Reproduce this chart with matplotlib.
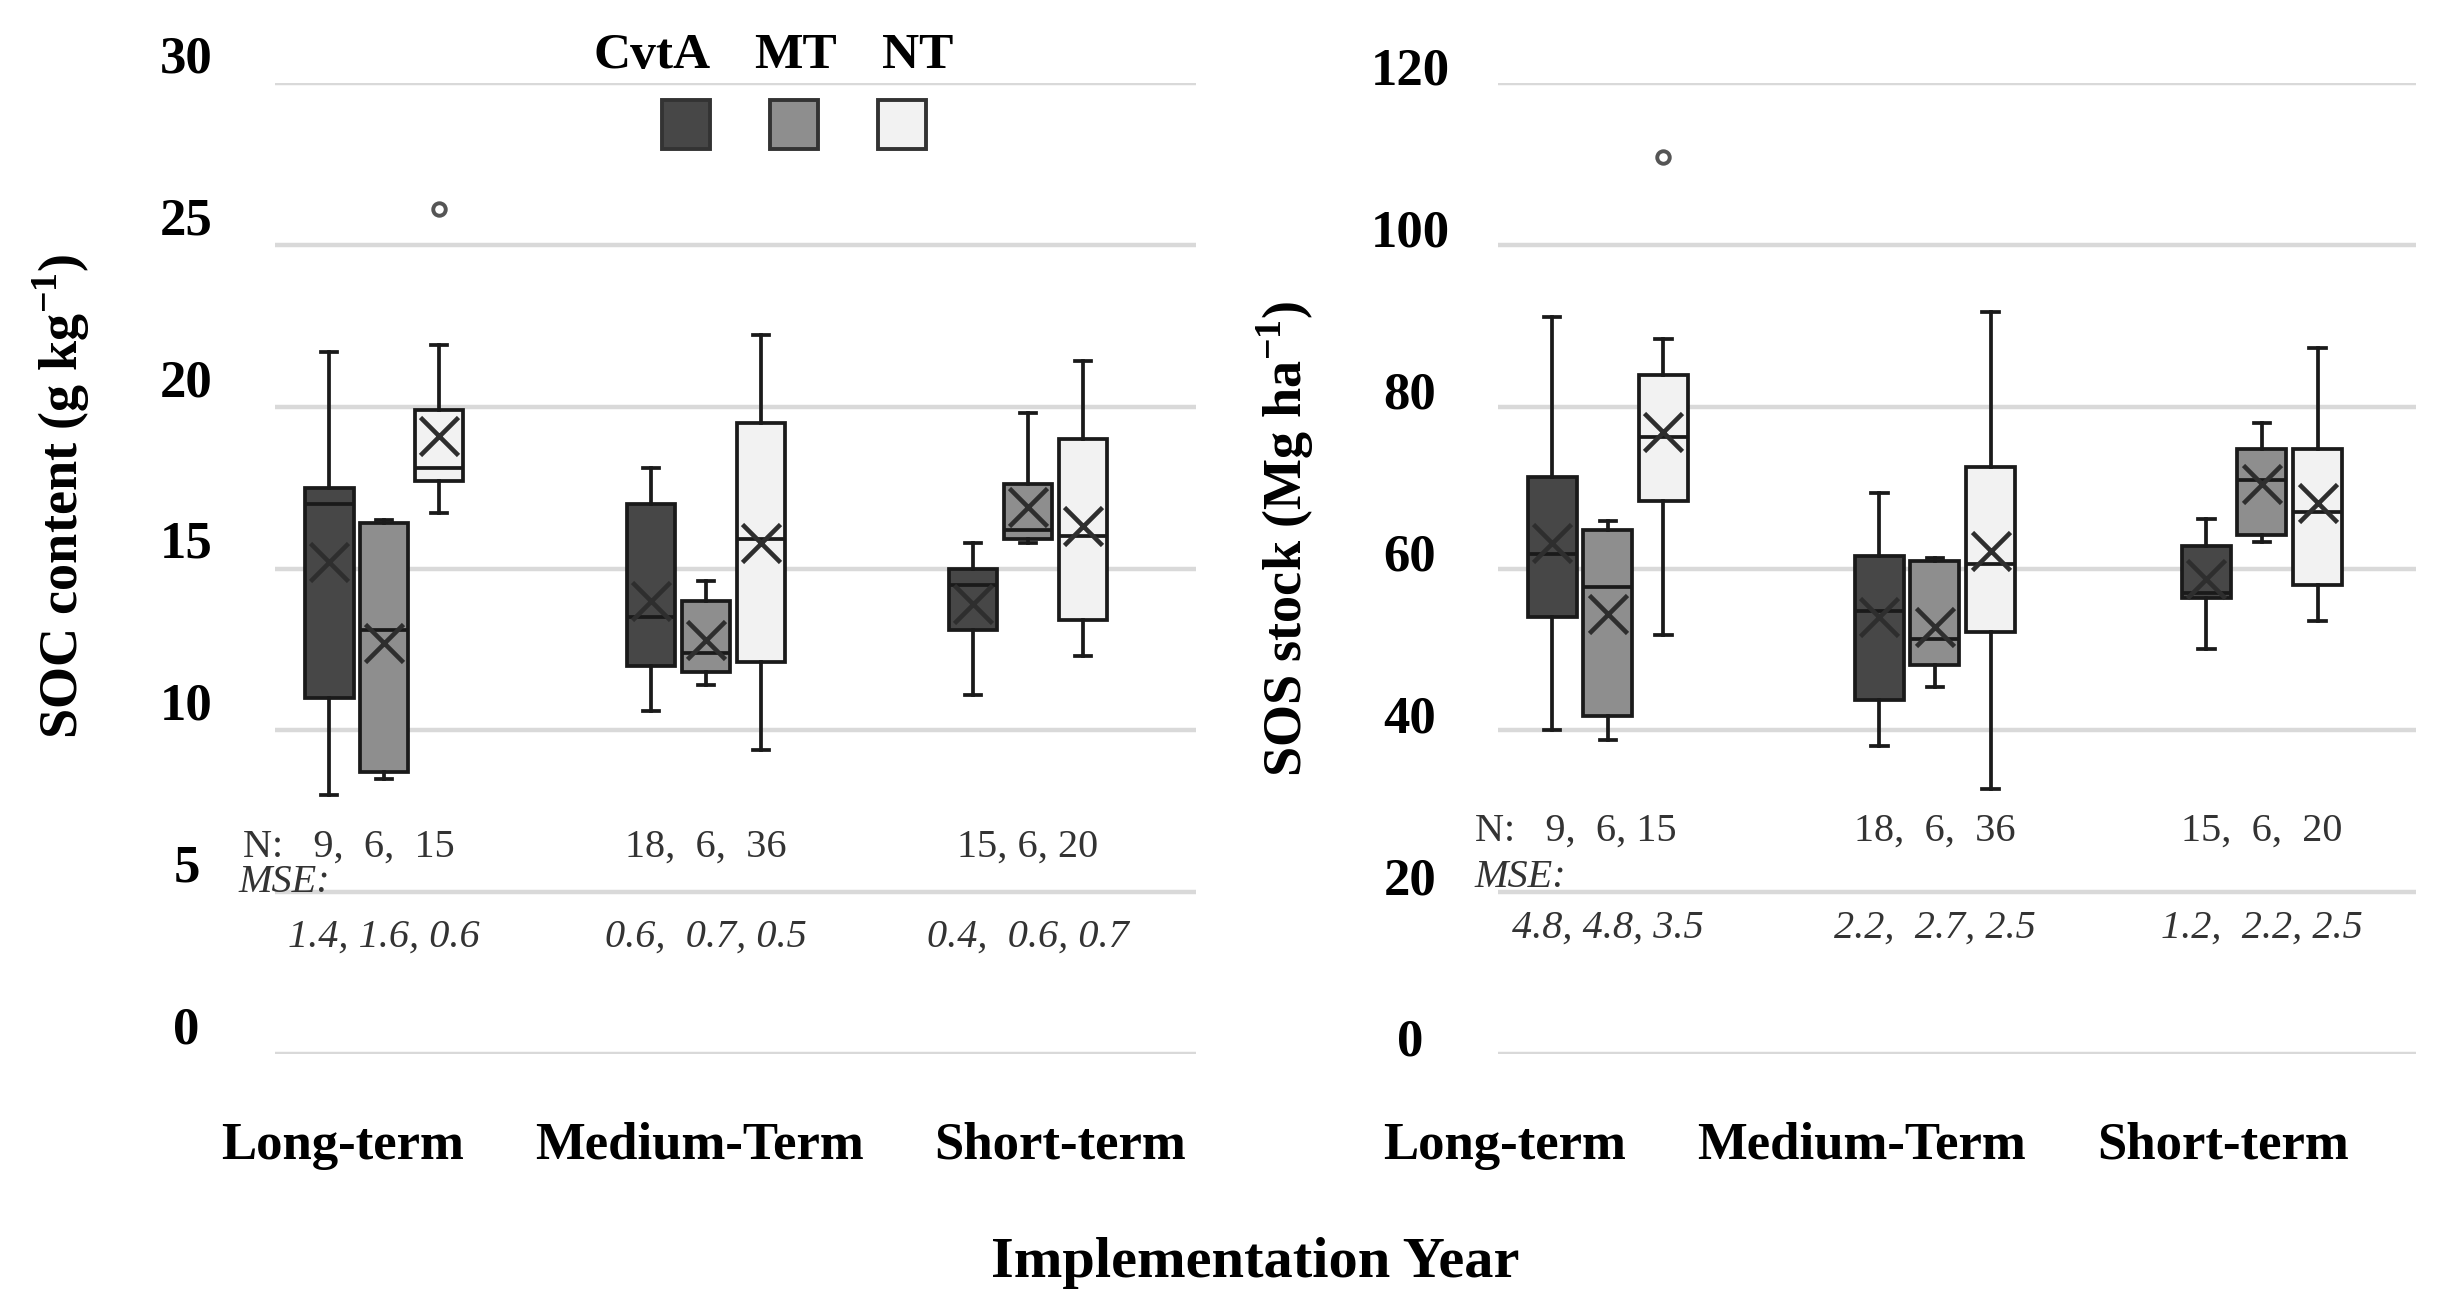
import matplotlib
matplotlib.use("Agg")
import matplotlib.pyplot as plt
from matplotlib.patches import Rectangle
from matplotlib.transforms import blended_transform_factory

plt.rcParams["font.family"] = ["Liberation Serif", "DejaVu Serif"]
plt.rcParams["mathtext.fontset"] = "custom"
plt.rcParams["mathtext.rm"] = "Liberation Serif"
plt.rcParams["mathtext.bf"] = "Liberation Serif:bold"

# ── Data ──────────────────────────────────────────────────────────────────────
periods = ["Long-term", "Medium-Term", "Short-term"]
treatments = ["CvtA", "MT", "NT"]
colors = ["#474747", "#8e8e8e", "#f2f2f2"]

# rows = period, cols = treatment (CvtA, MT, NT)
soc_whislo = [[8.0, 8.5, 16.7], [10.6, 11.4, 9.4], [11.1, 15.8, 12.3]]
soc_q1 = [[11.0, 8.7, 17.7], [12.0, 11.8, 12.1], [13.1, 15.9, 13.4]]
soc_med = [[17.0, 13.1, 18.1], [13.5, 12.4, 15.9], [14.5, 16.2, 16.0]]
soc_q3 = [[17.5, 16.4, 19.9], [17.0, 14.0, 19.5], [15.0, 17.6, 19.0]]
soc_whishi = [[21.7, 16.5, 21.9], [18.1, 14.6, 22.2], [15.8, 19.8, 21.4]]
soc_mean = [[15.2, 12.7, 19.1], [14.0, 12.8, 15.8], [13.9, 16.9, 16.3]]
soc_fliers = [[[], [], [26.1]], [[], [], []], [[], [], []]]

sos_whislo = [[40.1, 38.8, 51.8], [38.1, 45.3, 32.7], [50.0, 63.3, 53.5]]
sos_q1 = [[54.0, 41.8, 68.3], [43.7, 48.1, 52.2], [56.4, 64.2, 57.9]]
sos_med = [[61.8, 57.7, 76.3], [54.8, 51.3, 60.5], [57.0, 70.9, 67.0]]
sos_q3 = [[71.3, 64.8, 83.9], [61.6, 60.9, 72.6], [62.8, 74.8, 74.8]]
sos_whishi = [[91.1, 65.9, 88.4], [69.3, 61.3, 91.7], [66.1, 78.0, 87.3]]
sos_mean = [[63.1, 54.4, 76.9], [54.0, 52.8, 62.2], [58.7, 70.4, 68.1]]
sos_fliers = [[[], [], [110.8]], [[], [], []], [[], [], []]]

n_text = ["9,  6,  15", "18,  6,  36", "15, 6, 20"]
soc_mse = ["1.4, 1.6, 0.6", "0.6,  0.7, 0.5", "0.4,  0.6, 0.7"]
sos_n_text = ["9,  6, 15", "18,  6,  36", "15,  6,  20"]
sos_mse = ["4.8, 4.8, 3.5", "2.2,  2.7, 2.5", "1.2,  2.2, 2.5"]

EDGE = "#1a1a1a"


def make_stats(whislo, q1, med, q3, whishi, mean, fliers):
    stats = []
    for p in range(len(periods)):
        for t in range(len(treatments)):
            stats.append(dict(whislo=whislo[p][t], q1=q1[p][t], med=med[p][t],
                              q3=q3[p][t], whishi=whishi[p][t],
                              mean=mean[p][t], fliers=fliers[p][t]))
    return stats


def draw_panel(ax, stats, ymax, step, xlim, label_x, tick_shift,
               n_lines, mse_lines, n_x, mse_x, text_y):
    offs = 0.17
    positions = [p + (t - 1) * offs for p in range(3) for t in range(3)]
    res = ax.bxp(stats, positions=positions, widths=0.15, capwidths=0.05,
                 patch_artist=True, showmeans=True,
                 boxprops=dict(edgecolor=EDGE, linewidth=2.7),
                 whiskerprops=dict(color=EDGE, linewidth=2.7),
                 capprops=dict(color=EDGE, linewidth=2.7),
                 medianprops=dict(color=EDGE, linewidth=2.7),
                 meanprops=dict(marker="x", markersize=27, markeredgewidth=3.3,
                                markeredgecolor="#2e2e2e"),
                 flierprops=dict(marker="o", markersize=9, markeredgewidth=2.8,
                                 markerfacecolor="white",
                                 markeredgecolor="#555555"))
    for i, box in enumerate(res["boxes"]):
        box.set_facecolor(colors[i % 3])

    ax.set_xlim(*xlim)
    ax.set_ylim(0, ymax)
    ax.set_yticks(range(0, ymax + 1, step))
    ax.yaxis.grid(True, color="#d9d9d9", linewidth=3.2)
    ax.set_axisbelow(True)
    ax.tick_params(left=False, bottom=False, labelleft=False, labelbottom=False)
    for s in ax.spines.values():
        s.set_visible(False)

    # y tick labels, centred and lifted above their gridline
    for v in range(0, ymax + 1, step):
        ax.annotate(str(v), xy=(-0.096, v), xycoords=("axes fraction", "data"),
                    xytext=(0, tick_shift), textcoords="offset points",
                    ha="center", va="center", fontsize=38, fontweight="bold",
                    annotation_clip=False)

    tr = blended_transform_factory(ax.transData, ax.transAxes)
    for x, lab in zip(label_x, periods):
        ax.text(x, -0.108, lab, transform=tr, ha="center", va="baseline",
                fontsize=38, fontweight="bold")

    # sample sizes and errors
    ax.text(n_x, text_y[0], "N:   " + n_lines[0], ha="left", va="center",
            fontsize=29, color="#333333", clip_on=False)
    ax.text(mse_x, text_y[1], "MSE:", ha="left", va="center", fontsize=29,
            style="italic", color="#333333", clip_on=False)
    for p in range(3):
        if p > 0:
            ax.text(p, text_y[0], n_lines[p], ha="center", va="center",
                    fontsize=29, color="#333333", clip_on=False)
        ax.text(p, text_y[2], mse_lines[p], ha="center", va="center",
                fontsize=29, style="italic", color="#333333", clip_on=False)


fig = plt.figure(figsize=(24.6, 12.97), dpi=100)
ax1 = fig.add_axes([275 / 2460, 1 - 1054 / 1297, 921 / 2460, 971 / 1297])
ax2 = fig.add_axes([1498 / 2460, 1 - 1054 / 1297, 918 / 2460, 971 / 1297])

draw_panel(ax1, make_stats(soc_whislo, soc_q1, soc_med, soc_q3, soc_whishi,
                           soc_mean, soc_fliers),
           30, 5, (-0.339, 2.522), [-0.13, 0.98, 2.10], 17,
           n_text, soc_mse, -0.438, -0.453, [6.4, 5.3, 3.6])

draw_panel(ax2, make_stats(sos_whislo, sos_q1, sos_med, sos_q3, sos_whishi,
                           sos_mean, sos_fliers),
           120, 20, (-0.336, 2.471), [-0.315, 0.775, 1.88], 8,
           sos_n_text, sos_mse, -0.407, -0.407, [27.5, 21.8, 15.5])

fig.text(61 / 2460, 1 - 496 / 1297, r"SOC content (g kg$^{\mathbf{-1}}$)",
         rotation=90, ha="center", va="center", fontsize=39, fontweight="bold")
fig.text(1285 / 2460, 1 - 539 / 1297, r"SOS stock (Mg ha$^{\mathbf{-1}}$)",
         rotation=90, ha="center", va="center", fontsize=39, fontweight="bold")
fig.text(1255 / 2460, 1 - 1277 / 1297, "Implementation Year", ha="center",
         va="baseline", fontsize=42, fontweight="bold")

# legend: labels above the swatches
leg_text_x = [652, 796, 918]
leg_box_x = [662, 770, 878]
for name, tx, bx, c in zip(treatments, leg_text_x, leg_box_x, colors):
    fig.text(tx / 2460, 1 - 68 / 1297, name, ha="center", va="baseline",
             fontsize=37, fontweight="bold")
    fig.patches.append(Rectangle((bx / 2460, 1 - 149 / 1297), 48 / 2460,
                                 49 / 1297, transform=fig.transFigure,
                                 facecolor=c, edgecolor="#333333", linewidth=2.8))

fig.savefig("out.png", dpi=100, facecolor="white")
